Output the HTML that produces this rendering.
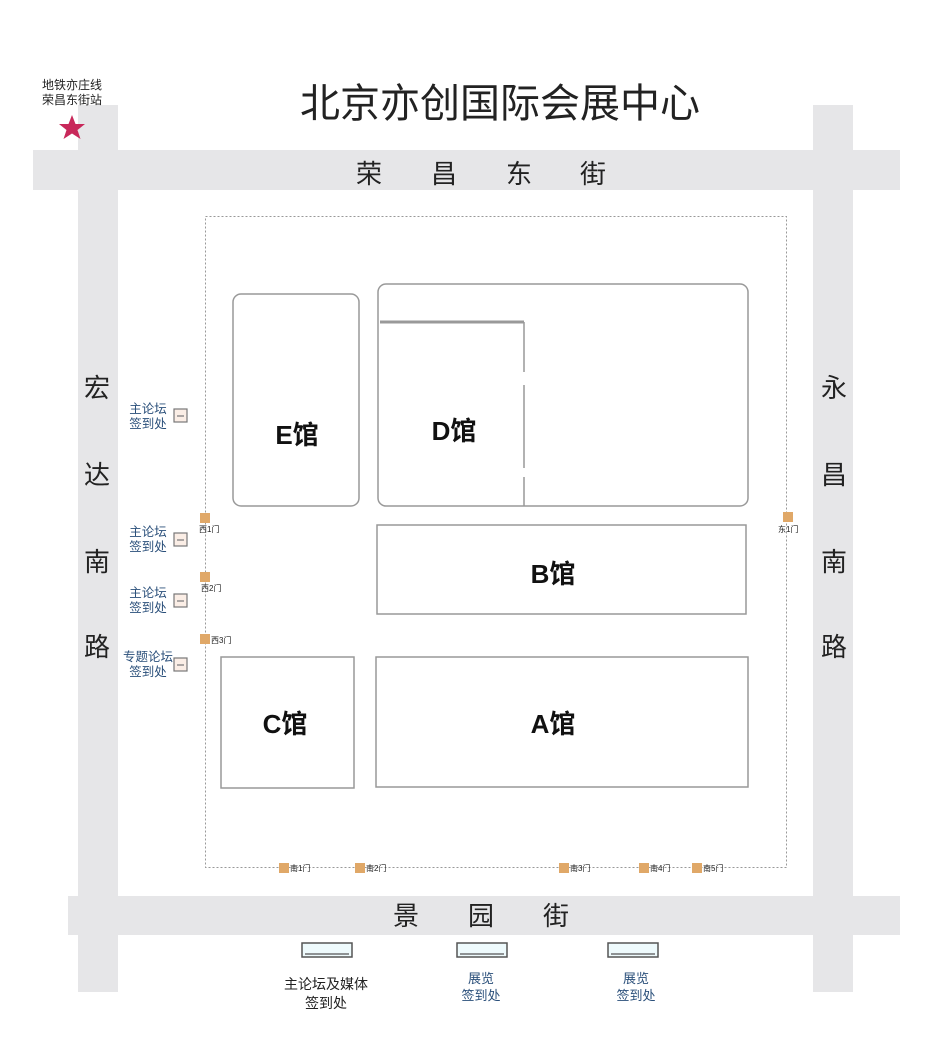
<!DOCTYPE html>
<html><head><meta charset="utf-8"><style>
html,body{margin:0;padding:0;background:#fff;width:938px;height:1058px;overflow:hidden}
svg{display:block}
text{font-family:"Liberation Sans","Noto Sans CJK SC",sans-serif}
</style></head><body>
<svg width="938" height="1058" viewBox="0 0 938 1058" xmlns="http://www.w3.org/2000/svg">
<!-- roads -->
<g fill="#e6e6e8">
<rect x="78" y="105" width="40" height="887"/>
<rect x="813" y="105" width="40" height="887"/>
<rect x="33" y="150" width="867" height="40"/>
<rect x="68" y="896" width="832" height="39"/>
</g>
<!-- title -->
<text x="500" y="117" font-size="40" text-anchor="middle" fill="#222">北京亦创国际会展中心</text>
<text x="42" y="89" font-size="12" fill="#222">地铁亦庄线</text>
<text x="42" y="104" font-size="12" fill="#222">荣昌东街站</text>
<polygon points="72,115 75.5,124 85,124 77.5,130 80.5,139 72,133.5 63.5,139 66.5,130 59,124 68.5,124" fill="#c8285a"/>
<!-- road names -->
<g font-size="26" fill="#222" text-anchor="middle">
<text x="369" y="183">荣</text><text x="444" y="183">昌</text><text x="519" y="183">东</text><text x="593" y="183">街</text>
<text x="406" y="925">景</text><text x="481" y="925">园</text><text x="556" y="925">街</text>
<text x="97" y="397">宏</text><text x="97" y="484">达</text><text x="97" y="571">南</text><text x="97" y="656">路</text>
<text x="834" y="397">永</text><text x="834" y="484">昌</text><text x="834" y="571">南</text><text x="834" y="656">路</text>
</g>
<!-- boundary -->
<rect x="205.5" y="216.5" width="581" height="651" fill="none" stroke="#999" stroke-width="1" stroke-dasharray="2,2"/>
<!-- buildings -->
<g fill="#fff" stroke="#999" stroke-width="1.5">
<rect x="233" y="294" width="126" height="212" rx="8"/>
<rect x="378" y="284" width="370" height="222" rx="8"/>
<rect x="377" y="525" width="369" height="89"/>
<rect x="221" y="657" width="133" height="131"/>
<rect x="376" y="657" width="372" height="130"/>
</g>
<line x1="380" y1="322" x2="524" y2="322" stroke="#999" stroke-width="3"/>
<line x1="524" y1="322" x2="524" y2="372" stroke="#999" stroke-width="1.5"/>
<line x1="524" y1="385" x2="524" y2="468" stroke="#999" stroke-width="1.5"/>
<line x1="524" y1="477" x2="524" y2="506" stroke="#999" stroke-width="1.5"/>
<g font-size="26" font-weight="bold" fill="#111" text-anchor="middle">
<text x="297" y="444">E馆</text>
<text x="454" y="440">D馆</text>
<text x="553" y="583">B馆</text>
<text x="285" y="733">C馆</text>
<text x="553" y="733">A馆</text>
</g>
<!-- gates -->
<g fill="#e0a868">
<rect x="200" y="513" width="10" height="10"/>
<rect x="200" y="572" width="10" height="10"/>
<rect x="200" y="634" width="10" height="10"/>
<rect x="783" y="512" width="10" height="10"/>
<rect x="279" y="863" width="10" height="10"/>
<rect x="355" y="863" width="10" height="10"/>
<rect x="559" y="863" width="10" height="10"/>
<rect x="639" y="863" width="10" height="10"/>
<rect x="692" y="863" width="10" height="10"/>
</g>
<g font-size="8" fill="#222">
<text x="199" y="532">西1门</text>
<text x="201" y="591">西2门</text>
<text x="211" y="643">西3门</text>
<text x="778" y="532">东1门</text>
<text x="290" y="871">南1门</text>
<text x="366" y="871">南2门</text>
<text x="570" y="871">南3门</text>
<text x="650" y="871">南4门</text>
<text x="703" y="871">南5门</text>
</g>
<!-- west sign-in -->
<g font-size="12.5" fill="#2a4f7a" text-anchor="middle">
<text x="148" y="413">主论坛</text><text x="148" y="428">签到处</text>
<text x="148" y="536">主论坛</text><text x="148" y="551">签到处</text>
<text x="148" y="597">主论坛</text><text x="148" y="612">签到处</text>
<text x="148" y="661">专题论坛</text><text x="148" y="676">签到处</text>
</g>
<g fill="#fbeee6" stroke="#777" stroke-width="1.2">
<rect x="174" y="409" width="13" height="13"/>
<rect x="174" y="533" width="13" height="13"/>
<rect x="174" y="594" width="13" height="13"/>
<rect x="174" y="658" width="13" height="13"/>
</g>
<g stroke="#777" stroke-width="1.2">
<line x1="177" y1="416" x2="184" y2="416"/>
<line x1="177" y1="540" x2="184" y2="540"/>
<line x1="177" y1="601" x2="184" y2="601"/>
<line x1="177" y1="665" x2="184" y2="665"/>
</g>
<!-- south sign-in -->
<g fill="#eefafc" stroke="#555" stroke-width="1.5">
<rect x="302" y="943" width="50" height="14"/>
<rect x="457" y="943" width="50" height="14"/>
<rect x="608" y="943" width="50" height="14"/>
</g>
<g stroke="#555" stroke-width="1.2">
<line x1="305" y1="954" x2="349" y2="954"/>
<line x1="460" y1="954" x2="504" y2="954"/>
<line x1="611" y1="954" x2="655" y2="954"/>
</g>
<g font-size="14" fill="#222" text-anchor="middle">
<text x="326" y="989">主论坛及媒体</text><text x="326" y="1008">签到处</text>
</g>
<g font-size="13" fill="#2a4f7a" text-anchor="middle">
<text x="481" y="983">展览</text><text x="481" y="1000">签到处</text>
<text x="636" y="983">展览</text><text x="636" y="1000">签到处</text>
</g>
</svg>
</body></html>
